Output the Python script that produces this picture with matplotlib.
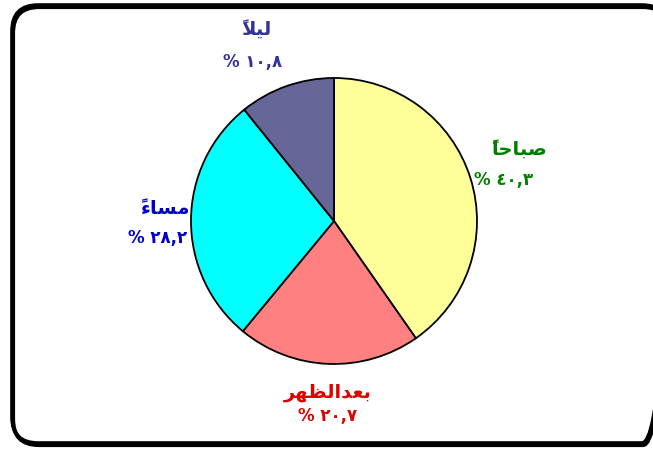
import matplotlib
matplotlib.use("Agg")
import matplotlib.pyplot as plt
from matplotlib.patches import FancyBboxPatch

# data (clockwise from top)
labels = ["صباحاً", "بعدالظهر", "مساءً", "ليلاً"]
values = [40.3, 20.7, 28.2, 10.8]
pct_text = ["% ٤٠,٣", "% ٢٠,٧", "% ٢٨,٢", "% ١٠,٨"]

# pre-shaped glyphs in visual order (matplotlib does no arabic shaping);
# the tanween mark goes before its base so it lands over it
shaped = [
    "\u064B\uFE8E\uFEA3\uFE8E\uFE92\uFEBB",
    "\uFEAE\uFEEC\uFEC8\uFEDF\uFE8D\uFEAA\uFECC\uFE91",
    "\u064B\uFE80\uFE8E\uFEB4\uFEE3",
    "\u064B\uFEFC\uFEF4\uFEDF",
]
colors = ["#FFFF99", "#FF8080", "#00FFFF", "#666699"]
text_colors = ["#008000", "#E00000", "#0000CC", "#333399"]
name_pos = [(519, 149), (328, 393), (166, 209), (256, 29)]
pct_pos = [(504, 180), (328, 416), (158, 238), (253, 62)]

W, H = 653, 450
fig = plt.figure(figsize=(W / 100, H / 100), dpi=100)

bg = fig.add_axes([0, 0, 1, 1])
bg.set_xlim(0, W)
bg.set_ylim(H, 0)
bg.axis("off")
shadow = FancyBboxPatch((13, 7), 656, 438, boxstyle="round,pad=0,rounding_size=26",
                        fill=False, edgecolor="black", linewidth=3)
bg.add_patch(shadow)
frame = FancyBboxPatch((12, 5), 656, 438, boxstyle="round,pad=0,rounding_size=26",
                       fill=False, edgecolor="black", linewidth=2.6)
bg.add_patch(frame)

cx, cy, r = 334, 221, 143
ax = fig.add_axes([(cx - r) / W, (H - cy - r) / H, 2 * r / W, 2 * r / H])
ax.pie(values, colors=colors, startangle=90, counterclock=False,
       wedgeprops=dict(edgecolor="black", linewidth=1.3), radius=1)
ax.set_xlim(-1, 1)
ax.set_ylim(-1, 1)
ax.set_aspect("equal")
ax.axis("off")

for s, p, c, (x1, y1), (x2, y2) in zip(shaped, pct_text, text_colors, name_pos, pct_pos):
    bg.text(x1, y1, s, color=c, fontsize=14, fontweight="bold", ha="center", va="center",
            family="DejaVu Sans")
    bg.text(x2, y2, p, color=c, fontsize=12, fontweight="bold", ha="center", va="center",
            family="DejaVu Sans")

fig.savefig("out.png", dpi=100)
